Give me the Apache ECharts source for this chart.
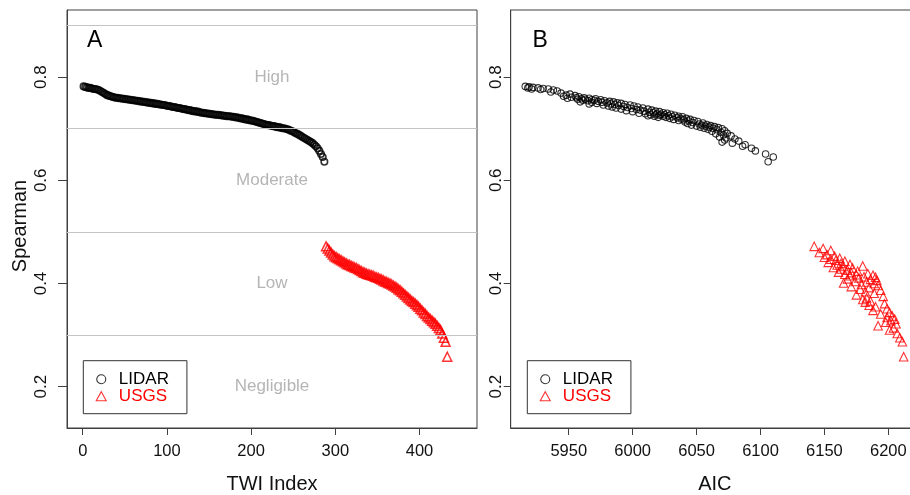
<!DOCTYPE html>
<html><head><meta charset="utf-8">
<script src="https://cdn.jsdelivr.net/npm/echarts@6/dist/echarts.min.js"></script>
<style>html,body{margin:0;padding:0;background:#fff}#c{width:910px;height:495px}</style>
</head><body><div id="c"></div>
<script>
// ---- data ----
const seriesNames = ['LIDAR', 'USGS'];
// Spearman of every 2nd TWI index, sorted (LIDAR indices 1..287, USGS 289..433)
const lidarSpearman = [
0.782,0.781,0.780,0.779,0.779,0.778,0.777,0.777,0.776,0.775,
0.773,0.771,0.769,0.767,0.765,0.764,0.763,0.762,
0.761,0.760,0.760,0.759,0.759,0.758,0.758,0.757,0.757,0.756,0.756,0.755,
0.755,0.754,0.754,0.753,0.753,0.752,0.752,0.751,0.751,0.750,0.750,0.749,0.749,0.748,0.748,0.747,0.747,0.746,0.746,0.745,
0.744,0.744,0.743,0.742,0.742,0.741,0.740,0.740,0.739,0.738,0.738,0.737,0.736,0.736,0.735,0.734,0.734,0.733,0.733,0.732,
0.731,0.731,0.730,0.730,0.729,0.729,0.728,0.728,0.727,0.727,0.727,0.726,0.726,0.725,0.725,0.724,0.724,0.724,0.723,0.723,
0.722,0.722,0.721,0.720,0.720,0.719,0.718,0.718,0.717,0.716,0.716,0.715,0.714,0.713,0.712,0.711,0.710,0.709,0.708,
0.707,0.707,0.706,0.705,0.705,0.704,0.703,0.703,0.702,0.701,0.701,0.700,
0.699,0.698,0.696,0.695,0.693,0.691,0.690,0.688,
0.686,0.684,0.682,0.680,0.678,0.676,0.674,0.672,
0.669,0.666,0.662,0.657,0.651,0.645,0.636];
const lidarAIC = [
5916,5919,5922,5918,5926,5930,5921,5934,5928,5938,
5941,5936,5944,5951,5948,5955,5946,5958,
5952,5962,5956,5966,5949,5960,5971,5963,5957,5968,5975,5961,
5970,5978,5965,5982,5973,5959,5985,5976,5968,5988,5980,5972,5991,5983,5966,5994,5986,5977,5998,5989,
5981,6001,5993,5984,6004,5996,5987,6008,5999,6012,5991,6003,6015,6006,5995,6018,6009,6021,6000,6013,
6024,6016,6005,6027,6019,6010,6022,6030,6014,6025,6018,6033,6021,6028,6012,6036,6024,6017,6031,6039,
6026,6020,6035,6042,6029,6038,6045,6032,6040,6048,6036,6044,6051,6041,6047,6055,6043,6052,6058,
6046,6054,6061,6050,6057,6064,6053,6060,6067,6056,6063,6070,
6059,6066,6072,6062,6069,6074,6065,6071,
6077,6068,6073,6080,6072,6083,6070,6078,
6088,6086,6093,6096,6104,6110,6106];
const usgsSpearman = [
0.472,0.468,0.464,0.460,0.456,
0.453,0.451,0.449,0.447,0.445,0.443,0.441,0.439,0.437,0.436,
0.434,0.433,0.431,0.430,0.428,0.426,0.424,0.422,0.421,0.419,
0.418,0.417,0.416,0.415,0.413,0.412,0.411,0.409,0.408,0.406,
0.404,0.403,0.401,0.400,0.398,0.396,0.394,0.392,0.389,0.387,
0.384,0.381,0.378,0.375,0.372,0.369,0.366,0.364,0.361,0.358,
0.355,0.351,0.348,0.344,0.341,0.337,0.334,0.331,
0.328,0.325,0.322,0.318,0.314,0.310,
0.303,0.295,0.287,0.258];
const usgsAIC = [
6142,6149,6155,6146,6152,
6158,6150,6162,6155,6159,6166,6153,6163,6170,6160,
6180,6165,6157,6172,6163,6168,6176,6161,6171,6184,
6166,6175,6188,6170,6181,6190,6177,6168,6186,6191,
6174,6183,6165,6189,6179,6192,6171,6185,6178,6194,
6182,6189,6175,6196,6183,6180,6186,6182,6197,6185,
6190,6199,6188,6201,6194,6203,6199,6205,
6202,6198,6206,6192,6204,6201,
6207,6209,6211,6212];
const twiStep = 2;                 // every 2nd TWI index is kept
const xTicksA = [0, 100, 200, 300, 400];
const xTicksB = [5950, 6000, 6050, 6100, 6150, 6200];
const yTicks = [0.2, 0.4, 0.6, 0.8];
const bandLines = [0.3, 0.5, 0.7, 0.9];
const bandLabels = ['High', 'Moderate', 'Low', 'Negligible'];
const bandLabelY = [0.8, 0.6, 0.4, 0.2];
const panelLabels = ['A', 'B'];
const axisTitles = ['TWI Index', 'AIC', 'Spearman'];

// ---- chart ----
const FONT = 'Liberation Sans, Arial, sans-serif';
const AX = '#404040';
const xRangeA = [-18.7, 468.3];
const xRangeB = [5904.6, 6224];
const yRange = [0.12, 0.93];
const twiLidar = lidarSpearman.map((v, i) => [1 + i * twiStep, v]);
const twiUsgs = usgsSpearman.map((v, i) => [1 + lidarSpearman.length * twiStep + i * twiStep, v]);
const aicLidar = lidarSpearman.map((v, i) => [lidarAIC[i], v]);
const aicUsgs = usgsSpearman.map((v, i) => [usgsAIC[i], v]);
const xMidA = (xRangeA[0] + xRangeA[1]) / 2;

const circleStyle = {color: 'rgba(0,0,0,0)', borderColor: '#000', borderWidth: 1.1};
const triStyle = {color: 'rgba(0,0,0,0)', borderColor: '#ff0000', borderWidth: 1.1};
const circleStyleA = {color: 'rgba(0,0,0,0)', borderColor: '#000', borderWidth: 1.6};
const triStyleA = {color: 'rgba(0,0,0,0)', borderColor: '#ff0000', borderWidth: 1.5};

function xAxisCfg(idx, range, ticks, name) {
  return {
    type: 'value', gridIndex: idx, min: range[0], max: range[1],
    name: name, nameLocation: 'middle', nameGap: 46,
    nameTextStyle: {fontFamily: FONT, fontSize: 20, color: '#111'},
    axisLine: {show: true, onZero: false, lineStyle: {color: AX, width: 1}},
    axisTick: {show: true, length: 7, customValues: ticks, lineStyle: {color: AX}},
    axisLabel: {show: true, customValues: ticks, margin: 15, fontFamily: FONT, fontSize: 16.5, color: '#111',
      formatter: v => String(v)},
    splitLine: {show: false}
  };
}
function yAxisCfg(idx, margin, tick, name) {
  const c = {
    type: 'value', gridIndex: idx, min: yRange[0], max: yRange[1],
    axisLine: {show: true, onZero: false, lineStyle: {color: AX, width: 1}},
    axisTick: {show: true, length: tick, customValues: yTicks, lineStyle: {color: AX}},
    axisLabel: {show: true, customValues: yTicks, rotate: 90, margin: margin, fontFamily: FONT, fontSize: 17, color: '#111',
      formatter: v => v.toFixed(1)},
    splitLine: {show: false}
  };
  if (name) {
    c.name = name; c.nameLocation = 'middle'; c.nameGap = 37;
    c.nameTextStyle = {fontFamily: FONT, fontSize: 20, color: '#111', padding: [0, 14, 0, 0]};
  }
  return c;
}
function legendCfg(left) {
  return {
    left: left, top: 360.7, orient: 'vertical', selectedMode: false,
    padding: [10, 18, 9, 12.4], itemGap: 0, itemWidth: 10, itemHeight: 9,
    symbolKeepAspect: true,
    borderColor: '#333', borderWidth: 1, backgroundColor: '#fff',
    textStyle: {fontFamily: FONT, fontSize: 17, padding: [0, 0, 0, 7.6]},
    data: [
      {name: seriesNames[0], icon: 'circle', itemStyle: circleStyle, textStyle: {color: '#000'}},
      {name: seriesNames[1], icon: 'triangle', itemStyle: triStyle, textStyle: {color: '#ff0000'}}
    ]
  };
}

const option = {
  animation: false,
  backgroundColor: '#fff',
  title: [
    {text: panelLabels[0], left: 87, top: 29, padding: 0, textStyle: {fontFamily: FONT, fontSize: 23, fontWeight: 'normal', color: '#000'}},
    {text: panelLabels[1], left: 532.5, top: 29, padding: 0, textStyle: {fontFamily: FONT, fontSize: 23, fontWeight: 'normal', color: '#000'}}
  ],
  grid: [
    {left: 67, top: 10, width: 410, height: 418, show: true, borderColor: AX, borderWidth: 1, backgroundColor: 'transparent', containLabel: false, outerBoundsMode: 'none'},
    {left: 510.7, top: 10, width: 408.3, height: 418, show: true, borderColor: AX, borderWidth: 1, backgroundColor: 'transparent', containLabel: false, outerBoundsMode: 'none'}
  ],
  xAxis: [xAxisCfg(0, xRangeA, xTicksA, axisTitles[0]), xAxisCfg(1, xRangeB, xTicksB, axisTitles[1])],
  yAxis: [yAxisCfg(0, 17, 9, axisTitles[2]), yAxisCfg(1, 6, 7, null)],
  legend: [legendCfg(83.3), legendCfg(527.3)],
  series: [
    {
      name: 'bands', type: 'scatter', xAxisIndex: 0, yAxisIndex: 0, silent: true, z: 1,
      symbolSize: 1, itemStyle: {color: 'rgba(0,0,0,0)'},
      data: bandLabels.map((t, i) => ({name: t, value: [xMidA, bandLabelY[i]]})),
      label: {show: true, position: 'inside', formatter: '{b}', fontFamily: FONT, fontSize: 17, color: '#a3a3a3'},
      markLine: {
        silent: true, symbol: ['none', 'none'], label: {show: false},
        lineStyle: {color: '#c4c4c4', width: 1, type: 'solid'},
        data: bandLines.map(v => ({yAxis: v}))
      }
    },
    {name: seriesNames[0], type: 'scatter', xAxisIndex: 0, yAxisIndex: 0, z: 3, symbol: 'circle', symbolSize: 6.5, itemStyle: circleStyleA, data: twiLidar},
    {name: seriesNames[1], type: 'scatter', xAxisIndex: 0, yAxisIndex: 0, z: 3, symbol: 'triangle', symbolSize: 9, itemStyle: triStyleA, data: twiUsgs},
    {name: seriesNames[0], type: 'scatter', xAxisIndex: 1, yAxisIndex: 1, z: 3, symbol: 'circle', symbolSize: 6.5, itemStyle: circleStyle, data: aicLidar},
    {name: seriesNames[1], type: 'scatter', xAxisIndex: 1, yAxisIndex: 1, z: 3, symbol: 'triangle', symbolSize: 8.5, itemStyle: triStyle, data: aicUsgs}
  ]
};
const chart = echarts.init(document.getElementById('c'), null, {renderer: 'canvas'});
chart.setOption(option);
</script></body></html>
